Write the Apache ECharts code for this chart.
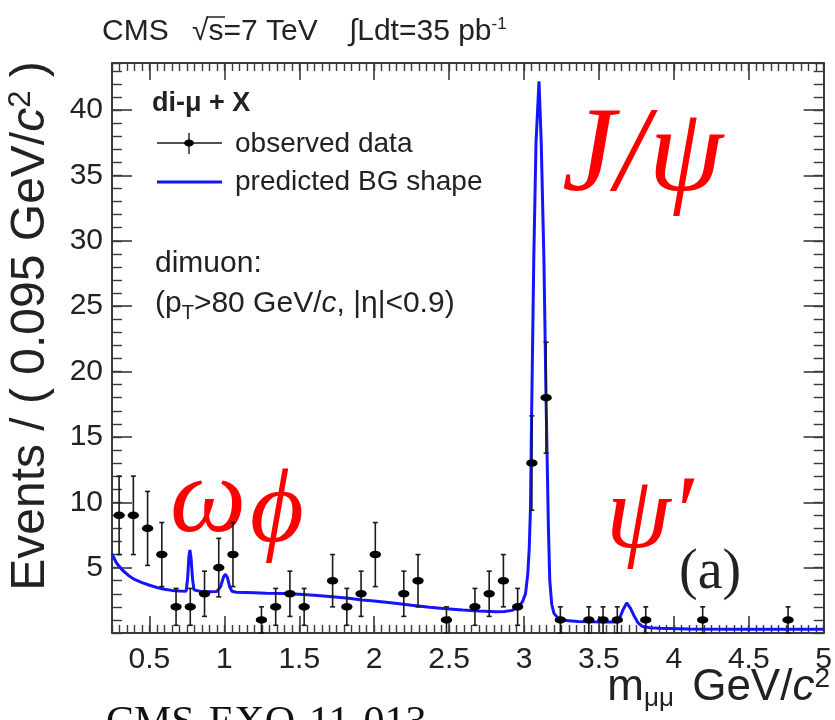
<!DOCTYPE html>
<html><head><meta charset="utf-8">
<script src="https://cdn.jsdelivr.net/npm/echarts@6/dist/echarts.min.js"></script>
<style>html,body{margin:0;padding:0;background:#fff}#c{width:835px;height:720px}</style>
</head><body><div id="c"></div>
<script>
// observed data (non-empty bins, bin width 0.095 GeV/c^2)
const binCenters = [0.2975,0.3925,0.4875,0.5825,0.6775,0.7725,0.8675,0.9625,1.0575,1.2475,1.3425,1.4375,1.5325,1.7225,1.8175,1.9125,2.0075,2.1975,2.2925,2.4825,2.6725,2.7675,2.8625,2.9575,3.0525,3.1475,3.2425,3.4325,3.5275,3.6225,3.8125,4.1925,4.7625];
const counts     = [9,9,8,6,2,2,3,5,6,1,2,3,2,4,2,3,6,3,4,1,2,3,4,2,13,18,1,1,1,1,1,1,1];
const errors     = [3,3,2.83,2.45,1.41,1.41,1.73,2.24,2.45,1,1.41,1.73,1.41,2,1.41,1.73,2.45,1.73,2,1,1.41,1.73,2,1.41,3.61,4.24,1,1,1,1,1,1,1];
// predicted background shape
const bgX = [0.25,0.28,0.32,0.36,0.40,0.45,0.50,0.55,0.60,0.65,0.70,0.745,0.755,0.763,0.770,0.778,0.787,0.797,0.81,0.85,0.90,0.95,0.975,0.995,1.007,1.02,1.035,1.05,1.08,1.2,1.28,1.4,1.5,1.6,1.72,1.83,1.92,2.0,2.14,2.25,2.37,2.48,2.59,2.7,2.81,2.87,2.92,2.96,2.99,3.01,3.025,3.035,3.043,3.05,3.065,3.08,3.1,3.115,3.133,3.147,3.155,3.163,3.172,3.185,3.2,3.23,3.28,3.36,3.45,3.55,3.61,3.635,3.66,3.685,3.71,3.735,3.76,3.79,3.84,3.9,4.1,4.4,5.0];
const bgY = [6.05,5.35,4.8,4.4,4.1,3.85,3.65,3.48,3.35,3.26,3.21,3.2,4.2,5.8,6.35,5.7,4.2,3.3,3.18,3.16,3.16,3.18,3.55,4.3,4.5,4.25,3.55,3.2,3.12,3.08,3.05,3.02,2.97,2.88,2.77,2.65,2.52,2.44,2.27,2.12,1.97,1.86,1.76,1.69,1.63,1.64,1.73,1.95,2.4,3.0,4.5,6.5,9.5,16,28.5,37.5,42.2,37.5,28.5,18,13,8,4,2.2,1.5,1.1,0.95,0.88,0.86,0.84,0.84,1.05,1.75,2.3,1.9,1.3,0.8,0.5,0.4,0.36,0.31,0.29,0.28];
// tick labels
const xTickLabels = [0.5,1,1.5,2,2.5,3,3.5,4,4.5,5];
const yTickLabels = [5,10,15,20,25,30,35,40];

const X_MIN = 0.25, X_MAX = 5, Y_MIN = 0, Y_MAX = 43.6;
const AX = '#3a3a3a';
const SANS = '"Liberation Sans", Arial, sans-serif';
const SERIF = '"Liberation Serif", "DejaVu Serif", "Times New Roman", serif';

function xAxisDef(pos, major, withLabels){
  return {
    type:'value', min:X_MIN, max:X_MAX, position:pos, interval: major ? undefined : 0.05,
    axisLine:{show:!major, onZero:false, lineStyle:{color:AX, width:2}},
    axisTick: major ? {show:true, inside:true, length:17, customValues:xTickLabels, lineStyle:{color:AX, width:1.6}}
                    : {show:true, inside:true, length:8, lineStyle:{color:AX, width:1.4}},
    axisLabel: withLabels ? {show:true, customValues:xTickLabels, margin:12, fontSize:30, fontFamily:SANS, color:'#222'} : {show:false},
    splitLine:{show:false}
  };
}
function yAxisDef(pos, major, withLabels){
  return {
    type:'value', min:Y_MIN, max:Y_MAX, position:pos, interval: major ? undefined : 1,
    axisLine:{show:!major, onZero:false, lineStyle:{color:AX, width:2}},
    axisTick: major ? {show:true, inside:true, length:20, customValues:yTickLabels, lineStyle:{color:AX, width:1.6}}
                    : {show:true, inside:true, length:10, lineStyle:{color:AX, width:1.4}},
    axisLabel: withLabels ? {show:true, customValues:yTickLabels, margin:9, fontSize:30, fontFamily:SANS, color:'#222'} : {show:false},
    splitLine:{show:false}
  };
}

const dataPts = binCenters.map((x,i)=>[x, counts[i], errors[i]]);
const bgData = bgX.map((x,i)=>[x, bgY[i]]);

const chart = echarts.init(document.getElementById('c'), null, {renderer:'canvas'});
chart.setOption({
  animation:false,
  backgroundColor:'#fff',
  grid:{left:112, top:63, width:713, height:570, containLabel:false},
  xAxis:[xAxisDef('bottom',false,true), xAxisDef('bottom',true,false), xAxisDef('top',false,false), xAxisDef('top',true,false)],
  yAxis:[yAxisDef('left',false,true), yAxisDef('left',true,false), yAxisDef('right',false,false), yAxisDef('right',true,false)],
  series:[
    {
      type:'line', xAxisIndex:0, yAxisIndex:0, data:bgData, showSymbol:false, smooth:false,
      lineStyle:{color:'#1414ff', width:3}, z:3
    },
    {
      type:'custom', xAxisIndex:0, yAxisIndex:0, data:dataPts, z:4,
      renderItem:function(params, api){
        const x = api.value(0), y = api.value(1), e = api.value(2);
        const c = api.coord([x,y]);
        const t = api.coord([x,y+e]);
        const b = api.coord([x,Math.max(0,y-e)]);
        const st = {stroke:'#1a1a1a', lineWidth:1.6};
        return {type:'group', children:[
          {type:'line', shape:{x1:c[0],y1:t[1],x2:c[0],y2:b[1]}, style:st},
          {type:'line', shape:{x1:c[0]-2.5,y1:t[1],x2:c[0]+2.5,y2:t[1]}, style:st},
          {type:'line', shape:{x1:c[0]-2.5,y1:b[1],x2:c[0]+2.5,y2:b[1]}, style:st},
          {type:'circle', x:c[0], y:c[1], scaleX:1.5, shape:{cx:0,cy:0,r:3.8}, style:{fill:'#000'}}
        ]};
      }
    }
  ],
  graphic:[
    // header
    {type:'text', x:102, y:32, style:{text:'CMS', font:'30px '+SANS, fill:'#222', verticalAlign:'middle'}},
    {type:'text', x:192, y:32, style:{text:'√s=7 TeV', font:'30px '+SANS, fill:'#222', verticalAlign:'middle'}},
    {type:'line', shape:{x1:207,y1:17,x2:225,y2:17}, style:{stroke:'#222', lineWidth:1.5}},
    {type:'text', x:349, y:32, style:{
      text:'{a|∫Ldt=35 pb}{s|-1}', verticalAlign:'middle',
      rich:{a:{font:'30px '+SANS, fill:'#222'}, s:{font:'17px '+SANS, fill:'#222', padding:[0,0,16,0]}}
    }},
    // legend
    {type:'text', x:152, y:104, style:{text:'di-μ + X', font:'bold 27px '+SANS, fill:'#222', verticalAlign:'middle'}},
    {type:'line', shape:{x1:157,y1:143,x2:222,y2:143}, style:{stroke:'#1a1a1a', lineWidth:1.4}},
    {type:'line', shape:{x1:189,y1:133,x2:189,y2:154}, style:{stroke:'#1a1a1a', lineWidth:1.4}},
    {type:'circle', x:189, y:143, scaleX:1.4, shape:{cx:0,cy:0,r:3.5}, style:{fill:'#000'}},
    {type:'text', x:235, y:144, style:{text:'observed data', font:'28px '+SANS, fill:'#222', verticalAlign:'middle'}},
    {type:'line', shape:{x1:157,y1:182,x2:222,y2:182}, style:{stroke:'#1414ff', lineWidth:3}},
    {type:'text', x:235, y:182, style:{text:'predicted BG shape', font:'28px '+SANS, fill:'#222', verticalAlign:'middle'}},
    {type:'text', x:155, y:264, style:{text:'dimuon:', font:'30px '+SANS, fill:'#222', verticalAlign:'middle'}},
    {type:'text', x:155, y:304, style:{
      text:'{a|(p}{s|T}{a|>80 GeV/}{i|c}{a|, |η|<0.9)}', verticalAlign:'middle',
      rich:{a:{font:'30px '+SANS, fill:'#222'}, s:{font:'20px '+SANS, fill:'#222', padding:[18,0,0,0]}, i:{font:'italic 30px '+SANS, fill:'#222'}}
    }},
    // axis titles
    {type:'text', x:31, y:326, rotation:Math.PI/2, style:{
      text:'{a|Events / ( 0.095 GeV/}{i|c}{s|2}{a| )}', align:'center', verticalAlign:'middle',
      rich:{a:{font:'48px '+SANS, fill:'#222'}, i:{font:'italic 48px '+SANS, fill:'#222'}, s:{font:'31px '+SANS, fill:'#222', padding:[0,0,19,0]}}
    }},
    {type:'text', x:830, y:688, style:{
      text:'{a|m}{s|μμ}{a| GeV/}{i|c}{p|2}', align:'right', verticalAlign:'middle',
      rich:{a:{font:'44px '+SANS, fill:'#222'}, i:{font:'italic 44px '+SANS, fill:'#222'}, s:{font:'26px '+SANS, fill:'#222', padding:[22,6,0,0]}, p:{font:'28px '+SANS, fill:'#222', padding:[0,0,18,0]}}
    }},
    {type:'text', x:106, y:703, style:{text:'CMS-EXO-11-013', font:'42px '+SERIF, fill:'#111', verticalAlign:'top'}},
    // resonance labels
    {type:'text', x:562, y:158, style:{text:'J/ψ', font:'italic 120px '+SERIF, fill:'#ff0000', verticalAlign:'middle'}},
    {type:'text', x:170, y:503, style:{text:'ω', font:'italic 108px '+SERIF, fill:'#ff0000', verticalAlign:'middle'}},
    {type:'text', x:250, y:514, style:{text:'ϕ', font:'italic 104px '+SERIF, fill:'#ff0000', verticalAlign:'middle'}},
    {type:'text', x:606, y:520, style:{text:'ψ′', font:'italic 104px '+SERIF, fill:'#ff0000', verticalAlign:'middle'}},
    {type:'text', x:679, y:573, style:{text:'(a)', font:'56px '+SERIF, fill:'#222', verticalAlign:'middle'}}
  ]
});
</script>
</body></html>
